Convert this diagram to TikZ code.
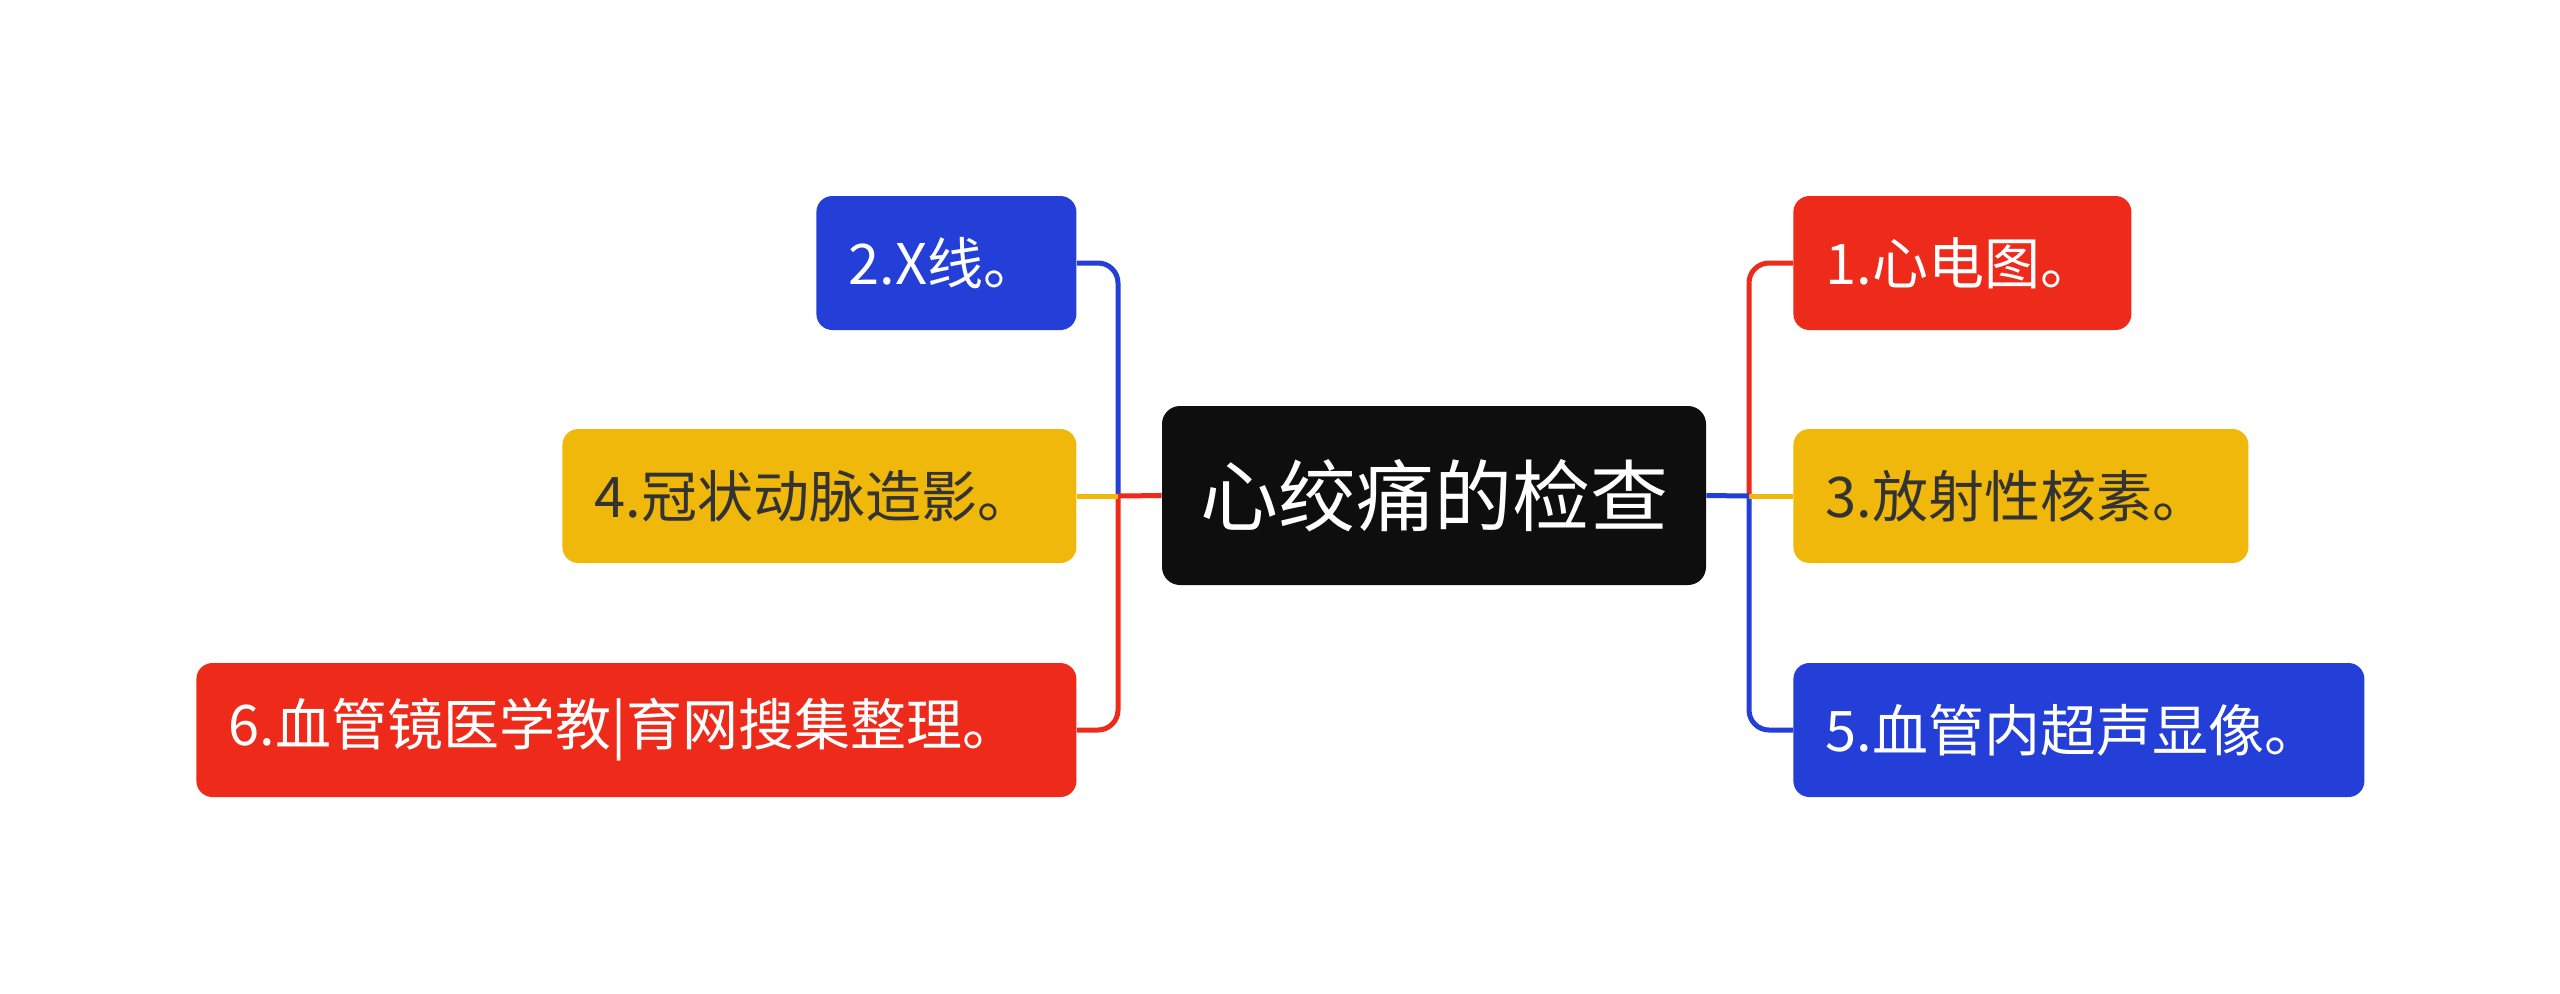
\documentclass[tikz,border=0pt]{standalone}
\usepackage{fontspec}
\newfontfamily\cjk{Noto Sans CJK SC}
\definecolor{cblue}{RGB}{36,62,216}
\definecolor{cred}{RGB}{238,42,26}
\definecolor{cyellow}{RGB}{239,184,10}
\definecolor{cblack}{RGB}{14,14,14}
\definecolor{cdark}{RGB}{51,51,51}
\tikzset{
  box/.style={rectangle, rounded corners=8pt, inner xsep=16pt, inner ysep=0pt,
    minimum height=67pt, align=left, anchor=west,
    font=\cjk\fontsize{28}{34}\selectfont},
  bluebox/.style={box, fill=cblue, text=white},
  redbox/.style={box, fill=cred, text=white},
  yellowbox/.style={box, fill=cyellow, text=cdark},
  rootbox/.style={rectangle, rounded corners=9pt, fill=cblack, text=white,
    minimum width=272pt, minimum height=89.5pt, inner sep=0pt,
    font=\cjk\fontsize{39}{46}\selectfont},
  conn/.style={line width=2.5pt},
  elbowconn/.style={line width=2.5pt, rounded corners=10pt},
}
\begin{document}
\begin{tikzpicture}[x=0.5pt,y=-0.5pt]
\useasboundingbox (0,0) rectangle (2560,993);
\node[rootbox] (c) at (1434,495.5) {心绞痛的检查};
% left side
\node[bluebox, text width=98pt] (b2) at (816,263) {2.X线。};
\node[yellowbox, text width=225pt] (b4) at (562,496) {4.冠状动脉造影。};
\node[redbox, text width=408pt] (b6) at (196,730) {6.血管镜医学教|育网搜集整理。};
% right side
\node[redbox, text width=137pt] (b1) at (1793,263) {1.心电图。};
\node[yellowbox, text width=195.5pt] (b3) at (1793,496) {3.放射性核素。};
\node[bluebox, text width=253.5pt] (b5) at (1793,730) {5.血管内超声显像。};
\coordinate (lt) at (1118,496);
\coordinate (rt) at (1749,496);
% left connectors
\draw[elbowconn, cblue] (lt) |- (b2.east);
\draw[elbowconn, cred] (lt) |- (b6.east);
\draw[conn, cyellow] (b4.east) -- (lt);
\draw[conn, cred] (c.west) -- (lt);
% right connectors
\draw[elbowconn, cred] (rt) |- (b1.west);
\draw[elbowconn, cblue] (rt) |- (b5.west);
\draw[conn, cyellow] (rt) -- (b3.west);
\draw[conn, cblue] (c.east) -- (rt);
\end{tikzpicture}
\end{document}
